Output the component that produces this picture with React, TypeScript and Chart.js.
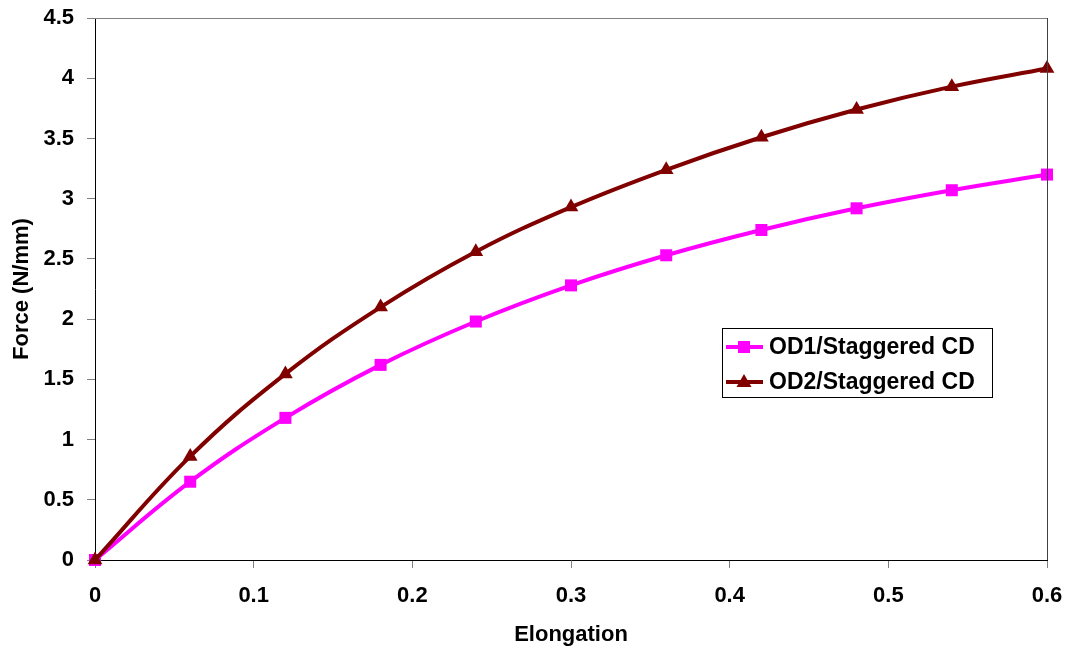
import React, { useEffect, useRef } from "react";
import { Chart, registerables } from "chart.js";

Chart.register(...registerables);

const elongation = [0, 0.06, 0.12, 0.18, 0.24, 0.3, 0.36, 0.42, 0.48, 0.54, 0.6];
const od1Force = [0, 0.65, 1.18, 1.62, 1.98, 2.28, 2.53, 2.74, 2.92, 3.07, 3.2];
const od2Force = [0, 0.86, 1.545, 2.1, 2.56, 2.93, 3.24, 3.51, 3.74, 3.93, 4.08];
const seriesNames = ["OD1/Staggered CD", "OD2/Staggered CD"];
const seriesColors = ["#FF00FF", "#800000"];
const seriesMarkers = ["rect", "triangle"];
const xTitle = "Elongation";
const yTitle = "Force (N/mm)";

const FONT = "'Liberation Sans', Arial, sans-serif";

const framePlugin = {
  id: "frame",
  afterDatasetsDraw(chart: any) {
    const { ctx, chartArea } = chart;
    const { left, right, top, bottom } = chartArea;
    ctx.save();
    ctx.lineWidth = 1;
    ctx.strokeStyle = "#808080";
    ctx.beginPath();
    ctx.moveTo(left, Math.round(top) + 0.5);
    ctx.lineTo(right, Math.round(top) + 0.5);
    ctx.stroke();
    ctx.strokeStyle = "#404040";
    ctx.beginPath();
    ctx.moveTo(Math.round(right) + 0.5, top);
    ctx.lineTo(Math.round(right) + 0.5, bottom);
    ctx.stroke();
    ctx.restore();
  },
};

const legendPlugin = {
  id: "boxLegend",
  afterDraw(chart: any) {
    const { ctx } = chart;
    const bx = 722.5;
    const by = 328.5;
    const bw = 270;
    const bh = 69;
    ctx.save();
    ctx.fillStyle = "#FFFFFF";
    ctx.fillRect(bx, by, bw, bh);
    ctx.strokeStyle = "#000000";
    ctx.lineWidth = 1;
    ctx.strokeRect(bx, by, bw, bh);
    const rows = [347, 382];
    seriesNames.forEach((name, i) => {
      const y = rows[i];
      ctx.strokeStyle = seriesColors[i];
      ctx.lineWidth = 4;
      ctx.beginPath();
      ctx.moveTo(726, y);
      ctx.lineTo(763, y);
      ctx.stroke();
      ctx.fillStyle = seriesColors[i];
      if (seriesMarkers[i] === "rect") {
        ctx.fillRect(738, y - 6, 12, 12);
      } else {
        ctx.beginPath();
        ctx.moveTo(744, y - 8);
        ctx.lineTo(751.5, y + 5);
        ctx.lineTo(736.5, y + 5);
        ctx.closePath();
        ctx.fill();
      }
      ctx.fillStyle = "#000000";
      ctx.font = `bold 23px ${FONT}`;
      ctx.textBaseline = "middle";
      ctx.textAlign = "left";
      ctx.fillText(name, 769, y + 1);
    });
    ctx.restore();
  },
};

function fmt(v: number) {
  return String(Number(Number(v).toFixed(2)));
}

export default function App() {
  const ref = useRef<HTMLCanvasElement | null>(null);

  useEffect(() => {
    if (!ref.current) return;
    const chart = new Chart(ref.current, {
      type: "line",
      data: {
        datasets: [
          {
            label: seriesNames[0],
            data: elongation.map((x, i) => ({ x, y: od1Force[i] })),
            borderColor: seriesColors[0],
            backgroundColor: seriesColors[0],
            borderWidth: 4,
            pointStyle: "rect",
            pointRadius: 8.5,
            pointBorderWidth: 0,
            pointHoverRadius: 8.5,
            tension: 0.4,
            clip: false as any,
            order: 1,
          },
          {
            label: seriesNames[1],
            data: elongation.map((x, i) => ({ x, y: od2Force[i] })),
            borderColor: seriesColors[1],
            backgroundColor: seriesColors[1],
            borderWidth: 4,
            pointStyle: "triangle",
            pointRadius: 8.5,
            pointBorderWidth: 0,
            pointHoverRadius: 8.5,
            tension: 0.4,
            clip: false as any,
            order: 0,
          },
        ],
      },
      options: {
        animation: false,
        responsive: true,
        maintainAspectRatio: false,
        layout: { padding: { top: 18, right: 23, left: 0, bottom: 0 } },
        plugins: {
          legend: { display: false },
          tooltip: { enabled: false },
        },
        scales: {
          x: {
            type: "linear",
            min: 0,
            max: 0.6,
            afterFit: (s: any) => {
              s.height = 95;
              s.paddingLeft = 0;
              s.paddingRight = 0;
            },
            ticks: {
              stepSize: 0.1,
              color: "#000000",
              font: { family: FONT, size: 22, weight: "bold" },
              padding: 15,
              callback: (v: any) => fmt(v),
              maxRotation: 0,
            },
            grid: {
              drawOnChartArea: false,
              drawTicks: true,
              tickLength: 8,
              color: "#808080",
            },
            border: { display: true, color: "#000000", width: 1 },
            title: {
              display: true,
              text: xTitle,
              color: "#000000",
              font: { family: FONT, size: 22, weight: "bold" },
              padding: { top: 0, bottom: 7 },
            },
          },
          y: {
            type: "linear",
            min: 0,
            max: 4.5,
            afterFit: (s: any) => {
              s.width = 95;
              s.paddingTop = 0;
              s.paddingBottom = 0;
            },
            ticks: {
              stepSize: 0.5,
              color: "#000000",
              font: { family: FONT, size: 22, weight: "bold" },
              padding: 13,
              callback: (v: any) => fmt(v),
            },
            grid: {
              drawOnChartArea: false,
              drawTicks: true,
              tickLength: 8,
              color: "#808080",
            },
            border: { display: true, color: "#000000", width: 1 },
            title: {
              display: true,
              text: yTitle,
              color: "#000000",
              font: { family: FONT, size: 22, weight: "bold" },
              padding: { top: 9, bottom: 0 },
            },
          },
        },
      },
      plugins: [framePlugin, legendPlugin],
    } as any);
    return () => chart.destroy();
  }, []);

  return (
    <div
      style={{
        position: "fixed",
        left: 0,
        top: 0,
        width: 1070,
        height: 655,
        background: "#FFFFFF",
      }}
    >
      <canvas ref={ref} />
    </div>
  );
}
